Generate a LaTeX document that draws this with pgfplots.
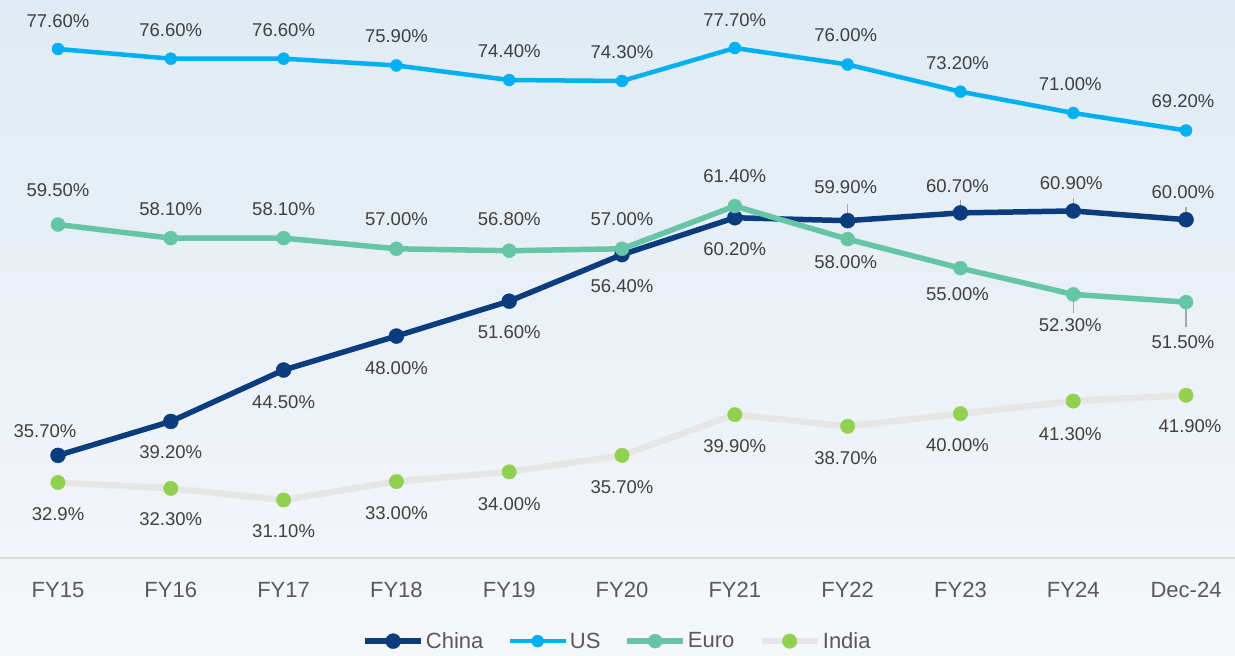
\documentclass[border=0pt]{standalone}
\usepackage{pgfplots}
\pgfplotsset{compat=1.18}
\usepackage{pgfplotstable}
\usepackage{fontspec}
\setmainfont{Liberation Sans}

\definecolor{cChina}{HTML}{0B3D7E}
\definecolor{cUS}{HTML}{00B0F0}
\definecolor{cEuro}{HTML}{66C5A4}
\definecolor{cIndiaL}{HTML}{E6E6E6}
\definecolor{cIndiaM}{HTML}{92D050}
\definecolor{txt}{HTML}{404040}
\definecolor{ticktxt}{HTML}{595959}
\definecolor{bgTop}{HTML}{DFEBF4}
\definecolor{bgMid}{HTML}{EFF4F8}
\definecolor{bgBot}{HTML}{F6F7FA}

\pgfplotstableread{
x y lab dx dy
0 35.7 35.70 -13 24
1 39.2 39.20 0 -31
2 44.5 44.50 0 -32
3 48.0 48.00 0 -32
4 51.6 51.60 0 -31
5 56.4 56.40 0 -32
6 60.2 60.20 0 -31
7 59.9 59.90 -2 34
8 60.7 60.70 -3 27
9 60.9 60.90 -2 28
10 60.0 60.00 -3 28
}\chinatab

\pgfplotstableread{
x y lab dx dy
0 77.6 77.60 0 28
1 76.6 76.60 0 29
2 76.6 76.60 0 29
3 75.9 75.90 0 29
4 74.4 74.40 0 29
5 74.3 74.30 0 29
6 77.7 77.70 0 28
7 76.0 76.00 -2 29
8 73.2 73.20 -3 29
9 71.0 71.00 -3 29
10 69.2 69.20 -3 29
}\ustab

\pgfplotstableread{
x y lab dx dy
0 59.5 59.50 0 34
1 58.1 58.10 0 29
2 58.1 58.10 0 29
3 57.0 57.00 0 30
4 56.8 56.80 0 32
5 57.0 57.00 0 30
6 61.4 61.40 0 30
7 58.0 58.00 -2 -23
8 55.0 55.00 -3 -26
9 52.3 52.30 -3 -31
10 51.5 51.50 -3 -40
}\eurotab

\pgfplotstableread{
x y lab dx dy
0 32.9 32.9 0 -32
1 32.3 32.30 0 -31
2 31.1 31.10 0 -31
3 33.0 33.00 0 -32
4 34.0 34.00 0 -32
5 35.7 35.70 0 -32
6 39.9 39.90 0 -31
7 38.7 38.70 -2 -32
8 40.0 40.00 -3 -31
9 41.3 41.30 -3 -33
10 41.9 41.90 4 -31
}\indiatab

\pgfplotsset{
  lbl/.style={
    nodes near coords={\pgfplotspointmeta\%},
    nodes near coords align=center,
    point meta=explicit symbolic,
    visualization depends on={\thisrow{dx}\as\dx},
    visualization depends on={\thisrow{dy}\as\dy},
    every node near coord/.append style={font=\fontsize{18.5bp}{20bp}\selectfont, text=txt, xshift=\dx bp, yshift=\dy bp},
  }
}

\begin{document}
\begin{tikzpicture}
\fill[top color=bgTop, middle color=bgMid, bottom color=bgBot] (0,-98bp) rectangle (1235bp,558bp);
\useasboundingbox (0,-98bp) rectangle (1235bp,558bp);
\begin{axis}[
  at={(0,0)}, anchor=south west,
  scale only axis, width=1235bp, height=558bp,
  xmin=-0.514, xmax=10.434, ymin=25.12, ymax=82.65,
  clip=false,
  axis y line=none, axis x line=bottom,
  axis line style={-, draw=black!14, line width=1.5bp},
  xtick={0,...,10},
  xticklabels={FY15,FY16,FY17,FY18,FY19,FY20,FY21,FY22,FY23,FY24,Dec-24},
  major tick length=0pt, ytick=\empty,
  xticklabel style={anchor=center, yshift=-32bp, font=\fontsize{22bp}{24bp}\selectfont, text=ticktxt},
  legend style={at={(0.5,-0.149)}, anchor=center, draw=none, fill=none,
    legend columns=4, font=\fontsize{22bp}{24bp}\selectfont, text=ticktxt,
    /tikz/every even column/.append style={column sep=22bp},
    /tikz/every odd column/.append style={column sep=0bp}},
  legend image code/.code={\draw[mark repeat=2,mark phase=2] plot coordinates {(0bp,0bp) (28bp,0bp) (56bp,0bp)};},
]
\addplot[cChina, line width=5.5bp, mark=*, mark size=7.5bp, mark options={solid, line width=0.4bp, fill=cChina, draw=cChina}, lbl]
  table[x=x, y=y, meta=lab] {\chinatab};
\addlegendentry{China}
\addplot[cUS, line width=4.5bp, mark=*, mark size=6bp, mark options={solid, line width=0.4bp, fill=cUS, draw=cUS}, lbl]
  table[x=x, y=y, meta=lab] {\ustab};
\addlegendentry{US}
\addplot[cEuro, line width=5.5bp, mark=*, mark size=7bp, mark options={solid, line width=0.4bp, fill=cEuro, draw=cEuro}, lbl]
  table[x=x, y=y, meta=lab] {\eurotab};
\addlegendentry{Euro}
\addplot[cIndiaL, line width=6.5bp, mark=*, mark size=7.2bp, mark options={solid, line width=0.4bp, fill=cIndiaM, draw=cIndiaM}, lbl]
  table[x=x, y=y, meta=lab] {\indiatab};
\addlegendentry{India}
% leader lines
\addplot[forget plot, draw=none, no markers,
  error bars/.cd, y dir=plus, y explicit, error mark=none,
  error bar style={draw=black!35, line width=1.3bp, solid}]
  coordinates {(7,59.9) +- (0,1.7) (8,60.7) +- (0,1.3) (9,60.9) +- (0,1.3) (10,60.0) +- (0,1.3)};
\addplot[forget plot, draw=none, no markers,
  error bars/.cd, y dir=minus, y explicit, error mark=none,
  error bar style={draw=black!35, line width=1.3bp, solid}]
  coordinates {(9,52.3) +- (0,1.9) (10,51.5) +- (0,2.6)};
\end{axis}
\end{tikzpicture}
\end{document}
